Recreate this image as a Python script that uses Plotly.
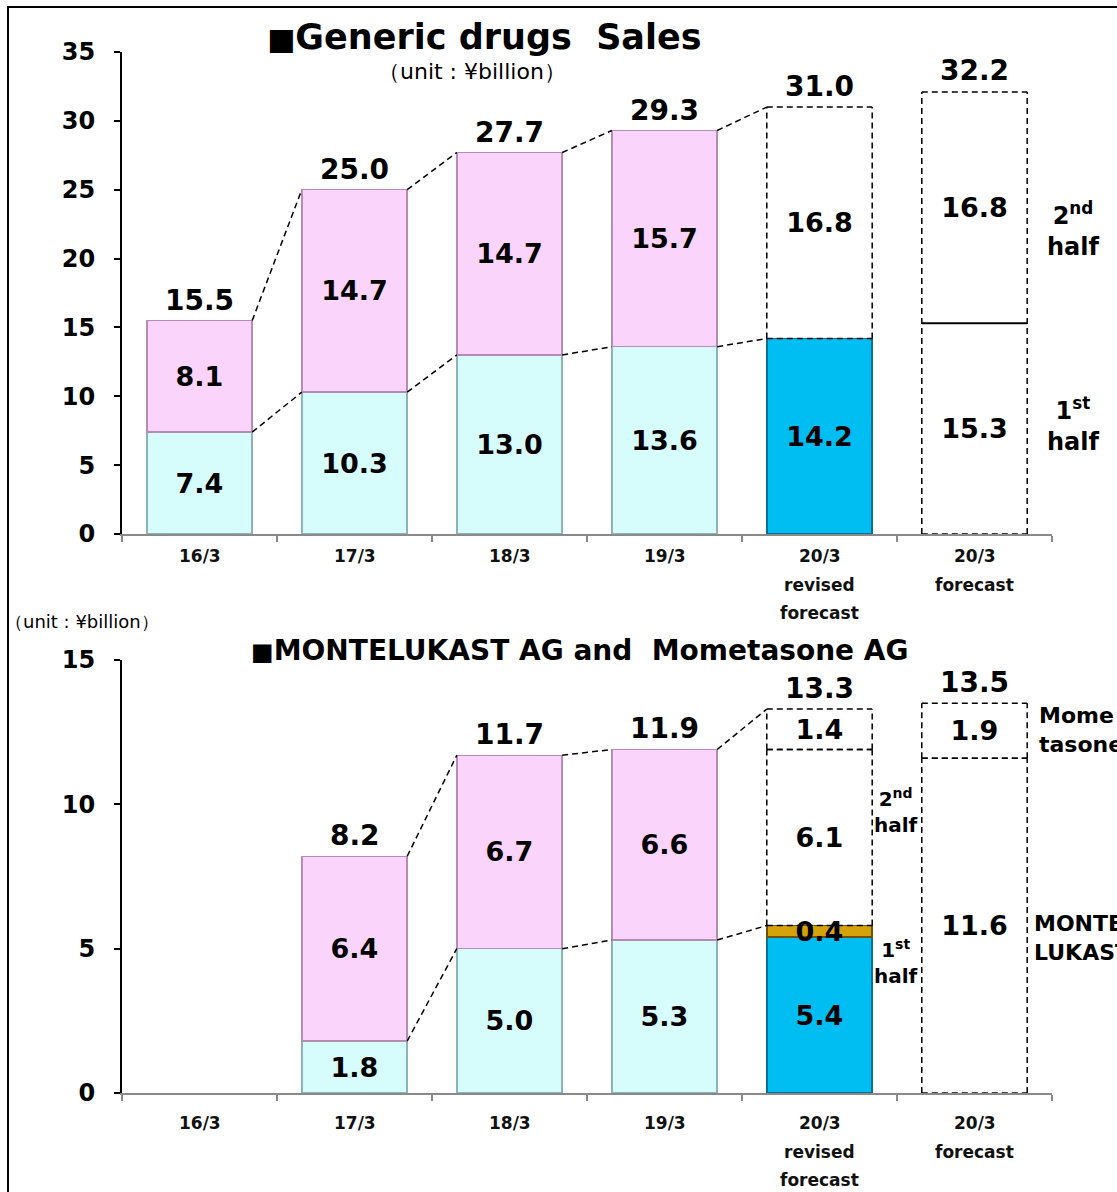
import plotly.graph_objects as go

W, H = 1117, 1192

# ---------------- data ----------------
categories = ["16/3", "17/3", "18/3", "19/3", "20/3 revised forecast", "20/3 forecast"]
category_labels = [["16/3"], ["17/3"], ["18/3"], ["19/3"],
                   ["20/3", "revised", "forecast"], ["20/3", "forecast"]]
category_kind = ["actual", "actual", "actual", "actual", "revised", "forecast"]

generic_first_half = [7.4, 10.3, 13.0, 13.6, 14.2, 15.3]
generic_second_half = [8.1, 14.7, 14.7, 15.7, 16.8, 16.8]
generic_total = [15.5, 25.0, 27.7, 29.3, 31.0, 32.2]

ag_montelukast_first_half = [None, 1.8, 5.0, 5.3, 5.4, None]
ag_mometasone_first_half = [None, None, None, None, 0.4, None]
ag_montelukast_second_half = [None, 6.4, 6.7, 6.6, 6.1, None]
ag_mometasone_second_half = [None, None, None, None, 1.4, None]
ag_montelukast_full_year = [None, None, None, None, None, 11.6]
ag_mometasone_full_year = [None, None, None, None, None, 1.9]
ag_total = [None, 8.2, 11.7, 11.9, 13.3, 13.5]

top_yticks = [0, 5, 10, 15, 20, 25, 30, 35]
bottom_yticks = [0, 5, 10, 15]

# ---------------- style ----------------
FONT = "DejaVu Sans"
CYAN, CYAN_EDGE = "#D6FCFC", "#8DB4B4"
PINK, PINK_EDGE = "#FAD4FA", "#B48CB4"
BLUE, BLUE_EDGE = "#00BDF2", "#0A6F94"
GOLD, GOLD_EDGE = "#D4A20A", "#6E5200"
CLEAR = "rgba(0,0,0,0)"
BW = 0.68
HALF = BW / 2
DASH = "6px,4px"


def px(x):
    return x / W


def py(y):
    return 1 - y / H


def fmt(v):
    return "" if v is None else f"{v:.1f}"


fig = go.Figure()

first_colors = {"actual": (CYAN, CYAN_EDGE), "revised": (BLUE, BLUE_EDGE), "forecast": (CLEAR, CLEAR)}
second_colors = {"actual": (PINK, PINK_EDGE), "revised": (CLEAR, CLEAR), "forecast": (CLEAR, CLEAR)}


def bar(y, colors, lines, xa, ya, name):
    return go.Bar(
        x=categories, y=y, width=BW, name=name,
        marker=dict(color=colors, line=dict(color=lines, width=1.5)),
        text=[fmt(v) for v in y], textposition="inside", insidetextanchor="middle",
        textangle=0, textfont=dict(family=FONT, size=27, color="black", weight="bold"),
        cliponaxis=False, xaxis=xa, yaxis=ya, showlegend=False, hoverinfo="skip",
    )


# top chart
fig.add_trace(bar(generic_first_half,
                  [first_colors[k][0] for k in category_kind],
                  [first_colors[k][1] for k in category_kind], "x", "y", "1st half"))
fig.add_trace(bar(generic_second_half,
                  [second_colors[k][0] for k in category_kind],
                  [second_colors[k][1] for k in category_kind], "x", "y", "2nd half"))

# bottom chart
ag_series = [
    (ag_montelukast_first_half, {"actual": (CYAN, CYAN_EDGE), "revised": (BLUE, BLUE_EDGE), "forecast": (CLEAR, CLEAR)}),
    (ag_mometasone_first_half, {"actual": (GOLD, GOLD_EDGE), "revised": (GOLD, GOLD_EDGE), "forecast": (CLEAR, CLEAR)}),
    (ag_montelukast_second_half, {"actual": (PINK, PINK_EDGE), "revised": (CLEAR, CLEAR), "forecast": (CLEAR, CLEAR)}),
    (ag_mometasone_second_half, {"actual": (CLEAR, CLEAR), "revised": (CLEAR, CLEAR), "forecast": (CLEAR, CLEAR)}),
    (ag_montelukast_full_year, {"actual": (CLEAR, CLEAR), "revised": (CLEAR, CLEAR), "forecast": (CLEAR, CLEAR)}),
    (ag_mometasone_full_year, {"actual": (CLEAR, CLEAR), "revised": (CLEAR, CLEAR), "forecast": (CLEAR, CLEAR)}),
]
for vals, cmap in ag_series:
    fig.add_trace(bar(vals, [cmap[k][0] for k in category_kind],
                      [cmap[k][1] for k in category_kind], "x2", "y2", ""))

shapes = []
annotations = []


def dline(xa, ya, x0, y0, x1, y1, dash=DASH, width=1.5):
    shapes.append(dict(type="line", xref=xa, yref=ya, x0=x0, y0=y0, x1=x1, y1=y1,
                       line=dict(color="black", width=width, dash=dash)))


def drect(xa, ya, i, y0, y1):
    dline(xa, ya, i - HALF, y0, i - HALF, y1)
    dline(xa, ya, i + HALF, y0, i + HALF, y1)
    dline(xa, ya, i - HALF, y1, i + HALF, y1)
    dline(xa, ya, i - HALF, y0, i + HALF, y0)


# ---- top chart shapes ----
for i in range(0, 4):
    t0 = generic_first_half[i] + generic_second_half[i]
    t1 = generic_first_half[i + 1] + generic_second_half[i + 1]
    dline("x", "y", i + HALF, t0, i + 1 - HALF, t1)
    dline("x", "y", i + HALF, generic_first_half[i], i + 1 - HALF, generic_first_half[i + 1])
# revised dashed box (2nd half)
drect("x", "y", 4, generic_first_half[4], generic_first_half[4] + generic_second_half[4])
# forecast dashed box
f_top = generic_first_half[5] + generic_second_half[5]
dline("x", "y", 5 - HALF, 0, 5 - HALF, f_top)
dline("x", "y", 5 + HALF, 0, 5 + HALF, f_top)
dline("x", "y", 5 - HALF, f_top, 5 + HALF, f_top)
dline("x", "y", 5 - HALF, 0, 5 + HALF, 0)
dline("x", "y", 5 - HALF, generic_first_half[5], 5 + HALF, generic_first_half[5], dash="solid", width=2)


# ---- bottom chart shapes ----
def ag_first_top(i):
    return (ag_montelukast_first_half[i] or 0) + (ag_mometasone_first_half[i] or 0)


def ag_stack_top(i):
    return sum((s[i] or 0) for s, _ in ag_series)


for i in range(1, 4):
    dline("x2", "y2", i + HALF, ag_stack_top(i), i + 1 - HALF, ag_stack_top(i + 1))
    dline("x2", "y2", i + HALF, ag_first_top(i), i + 1 - HALF, ag_first_top(i + 1))
r_mid = ag_first_top(4) + ag_montelukast_second_half[4]
drect("x2", "y2", 4, ag_first_top(4), r_mid)
drect("x2", "y2", 4, r_mid, r_mid + ag_mometasone_second_half[4])
f_mid = ag_montelukast_full_year[5]
drect("x2", "y2", 5, 0, f_mid)
drect("x2", "y2", 5, f_mid, f_mid + ag_mometasone_full_year[5])

# outer frame
shapes.append(dict(type="rect", xref="paper", yref="paper", x0=px(8), x1=1.02, y0=-0.02, y1=py(7),
                   line=dict(color="black", width=2), fillcolor=CLEAR, layer="below"))

# ---- total labels ----
for i, v in enumerate(generic_total):
    annotations.append(dict(x=categories[i], y=v, xref="x", yref="y", text=fmt(v), showarrow=False,
                            yanchor="bottom", yshift=2,
                            font=dict(family=FONT, size=28, color="black", weight="bold")))
for i, v in enumerate(ag_total):
    if v is None:
        continue
    annotations.append(dict(x=categories[i], y=v, xref="x2", yref="y2", text=fmt(v), showarrow=False,
                            yanchor="bottom", yshift=2,
                            font=dict(family=FONT, size=28, color="black", weight="bold")))

# ---- category labels (x tick text) ----
for base_y, xa in ((556, "x"), (1123, "x2")):
    for i, lines in enumerate(category_labels):
        for j, line in enumerate(lines):
            annotations.append(dict(x=categories[i], xref=xa, y=py(base_y + j * 28.5), yref="paper",
                                    text=line, showarrow=False, yanchor="middle",
                                    font=dict(family=FONT, size=17, color="#111", weight="bold")))


# ---- titles and side labels ----
def note(x, y, text, size, bold=True, xanchor="center", align="center"):
    annotations.append(dict(x=px(x), y=py(y), xref="paper", yref="paper", text=text, showarrow=False,
                            xanchor=xanchor, yanchor="middle", align=align,
                            font=dict(family=FONT, size=size, color="black",
                                      weight="bold" if bold else "normal")))


note(484, 37, "<span style='font-size:30px'>■</span>Generic drugs \u00a0Sales", 35)
note(472, 71, "（unit : ¥billion）", 22, bold=False)
note(82, 621, "（unit : ¥billion）", 18, bold=False)
note(580, 650, "<span style='font-size:24px'>■</span>MONTELUKAST AG and \u00a0Mometasone AG", 28)
note(1073, 229, "2<sup>nd</sup><br>half", 24)
note(1073, 424, "1<sup>st</sup><br>half", 24)
note(896, 811, "2<sup>nd</sup><br>half", 20)
note(896, 962, "1<sup>st</sup><br>half", 20)
note(1037, 730, "Mome<br>tasone", 22, xanchor="left", align="left")
note(1032, 938, "MONTE<br>LUKAST", 22, xanchor="left", align="left")

# ---------------- layout ----------------
xdom = [px(122), px(1052)]
xaxis_common = dict(type="category", categoryorder="array", categoryarray=categories,
                    range=[-0.5, 5.5], domain=xdom, showline=True, linecolor="#8A8A8A", linewidth=2,
                    ticks="outside", tickson="boundaries", ticklen=6, tickwidth=2, tickcolor="#8A8A8A",
                    showticklabels=False, showgrid=False, zeroline=False, fixedrange=True,
                    automargin=False)
yaxis_common = dict(showline=True, linecolor="black", linewidth=2, ticks="outside", ticklen=6,
                    tickwidth=2, tickcolor="black", showgrid=False, zeroline=False,
                    tickfont=dict(family=FONT, size=24, color="black", weight="bold"),
                    ticklabelstandoff=14, fixedrange=True, automargin=False)

fig.update_layout(
    width=W, height=H, margin=dict(l=0, r=0, t=0, b=0, autoexpand=False),
    paper_bgcolor="white", plot_bgcolor="white",
    barmode="stack", showlegend=False,
    uniformtext=dict(minsize=26, mode="show"),
    xaxis=dict(**xaxis_common, anchor="y"),
    yaxis=dict(**yaxis_common, range=[0, 35], tickvals=top_yticks, domain=[py(534), py(52)], anchor="x"),
    xaxis2=dict(**xaxis_common, anchor="y2"),
    yaxis2=dict(**yaxis_common, range=[0, 15], tickvals=bottom_yticks, domain=[py(1093), py(660)], anchor="x2"),
    shapes=shapes, annotations=annotations,
)

fig.write_html("out.html")
